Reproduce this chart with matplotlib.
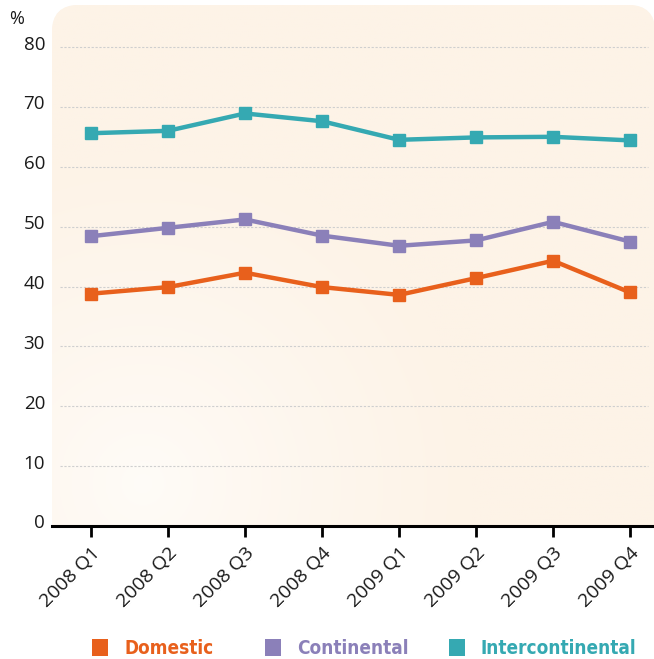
import numpy as np
import matplotlib
matplotlib.use("Agg")
import matplotlib.pyplot as plt
from matplotlib.patches import FancyBboxPatch, Rectangle
from matplotlib.colors import to_rgb
from matplotlib.transforms import ScaledTranslation
from matplotlib import font_manager

quarters = ["2008 Q1", "2008 Q2", "2008 Q3", "2008 Q4",
            "2009 Q1", "2009 Q2", "2009 Q3", "2009 Q4"]
domestic = [38.8, 39.9, 42.3, 39.9, 38.6, 41.4, 44.3, 39.0]
continental = [48.4, 49.8, 51.2, 48.5, 46.8, 47.7, 50.8, 47.5]
intercontinental = [65.6, 66.0, 68.9, 67.6, 64.5, 64.9, 65.0, 64.4]
series_names = ["Domestic", "Continental", "Intercontinental"]
series_colors = ["#E8601C", "#8B80B9", "#35A9B2"]
y_ticks = [0, 10, 20, 30, 40, 50, 60, 70, 80]

plt.rcParams['font.family'] = ['Open Sans', 'DejaVu Sans']

# pick a condensed bold face for the legend if one is installed
condensed = [f for f in font_manager.fontManager.ttflist
             if f.weight in (700, "bold") and ("Condensed" in f.fname or "Narrow" in f.fname)]
if condensed:
    leg_font = font_manager.FontProperties(fname=condensed[0].fname, size=13.6)
else:
    leg_font = font_manager.FontProperties(family="Open Sans", weight="bold", size=12)

W, H = 654, 659
fig = plt.figure(figsize=(W / 100, H / 100), dpi=100)
ax_l, ax_r, ax_b, ax_t = 52, 654, 526, 5
ax = fig.add_axes([ax_l / W, (H - ax_b) / H, (ax_r - ax_l) / W, (ax_b - ax_t) / H])

x = np.arange(len(quarters))
xlim = (-0.506, 7.31)
ylim = (0, 80 * (ax_b - ax_t) / (ax_b - 47))

# rounded background panel with soft radial glow
aw, ah = ax_r - ax_l, ax_b - ax_t
panel = FancyBboxPatch((0, -0.1), 1.002, 1.1, transform=ax.transAxes,
                       boxstyle="round,pad=0,rounding_size=0.045",
                       mutation_aspect=aw / ah, fc="#FDF3E7", ec="none",
                       zorder=0)
ax.add_patch(panel)
gx, gy = np.meshgrid(np.linspace(0, 1, 300), np.linspace(0, 1, 300))
d = np.sqrt(((gx - 0.15) * aw) ** 2 + ((gy - 0.08) * ah) ** 2) / 330
t = np.clip(d, 0, 1) ** 0.8
c0, c1 = np.array(to_rgb("#FFFCF8")), np.array(to_rgb("#FDF3E7"))
img = c0[None, None, :] * (1 - t[..., None]) + c1[None, None, :] * t[..., None]
im = ax.imshow(img, extent=[0, 1, 0, 1], transform=ax.transAxes, origin="lower",
               aspect="auto", zorder=0.5)
im.set_clip_path(panel)
ax.set_xlim(*xlim)
ax.set_ylim(*ylim)

for yv in y_ticks[1:]:
    ax.axhline(yv, xmin=0.013, xmax=0.99, color="#CFCFCF", lw=0.8,
               ls=(0, (2, 1.5)), zorder=1)

for vals, col in zip([domestic, continental, intercontinental], series_colors):
    ax.plot(x, vals, color=col, lw=3.2, marker="s", ms=9, mec=col, mfc=col,
            zorder=3)

ax.set_xticks(x)
ax.set_xticklabels(quarters, rotation=45, ha="right", va="top",
                   rotation_mode="anchor", fontsize=14, color="#1a1a1a")
ax.set_yticks(y_ticks)
ax.set_yticklabels([str(v) for v in y_ticks], fontsize=13.5, color="#1a1a1a")
ax.tick_params(axis="x", length=8, width=2, color="black", pad=5)
ax.tick_params(axis="y", length=0, pad=5)
# labels sit a little above their gridlines
lift = ScaledTranslation(0, 4.5 / 100, fig.dpi_scale_trans)
for lbl in ax.get_yticklabels():
    lbl.set_transform(lbl.get_transform() + lift)
for s in ["top", "right", "left"]:
    ax.spines[s].set_visible(False)
ax.spines["bottom"].set_linewidth(2.2)
ax.spines["bottom"].set_zorder(4)

fig.text(9 / W, 1 - 19 / H, "%", fontsize=13, va="center", ha="left",
         color="#1a1a1a")

# legend row
sq_x = [92, 265, 449]
for name, col, sx in zip(series_names, series_colors, sq_x):
    fig.patches.append(Rectangle((sx / W, 1 - 656 / H), 16 / W, 17 / H,
                                 transform=fig.transFigure, fc=col, ec="none"))
    fig.text((sx + 32) / W, 1 - 648 / H, name, color=col,
             fontproperties=leg_font, va="center", ha="left")

fig.savefig("out.png", dpi=100)
